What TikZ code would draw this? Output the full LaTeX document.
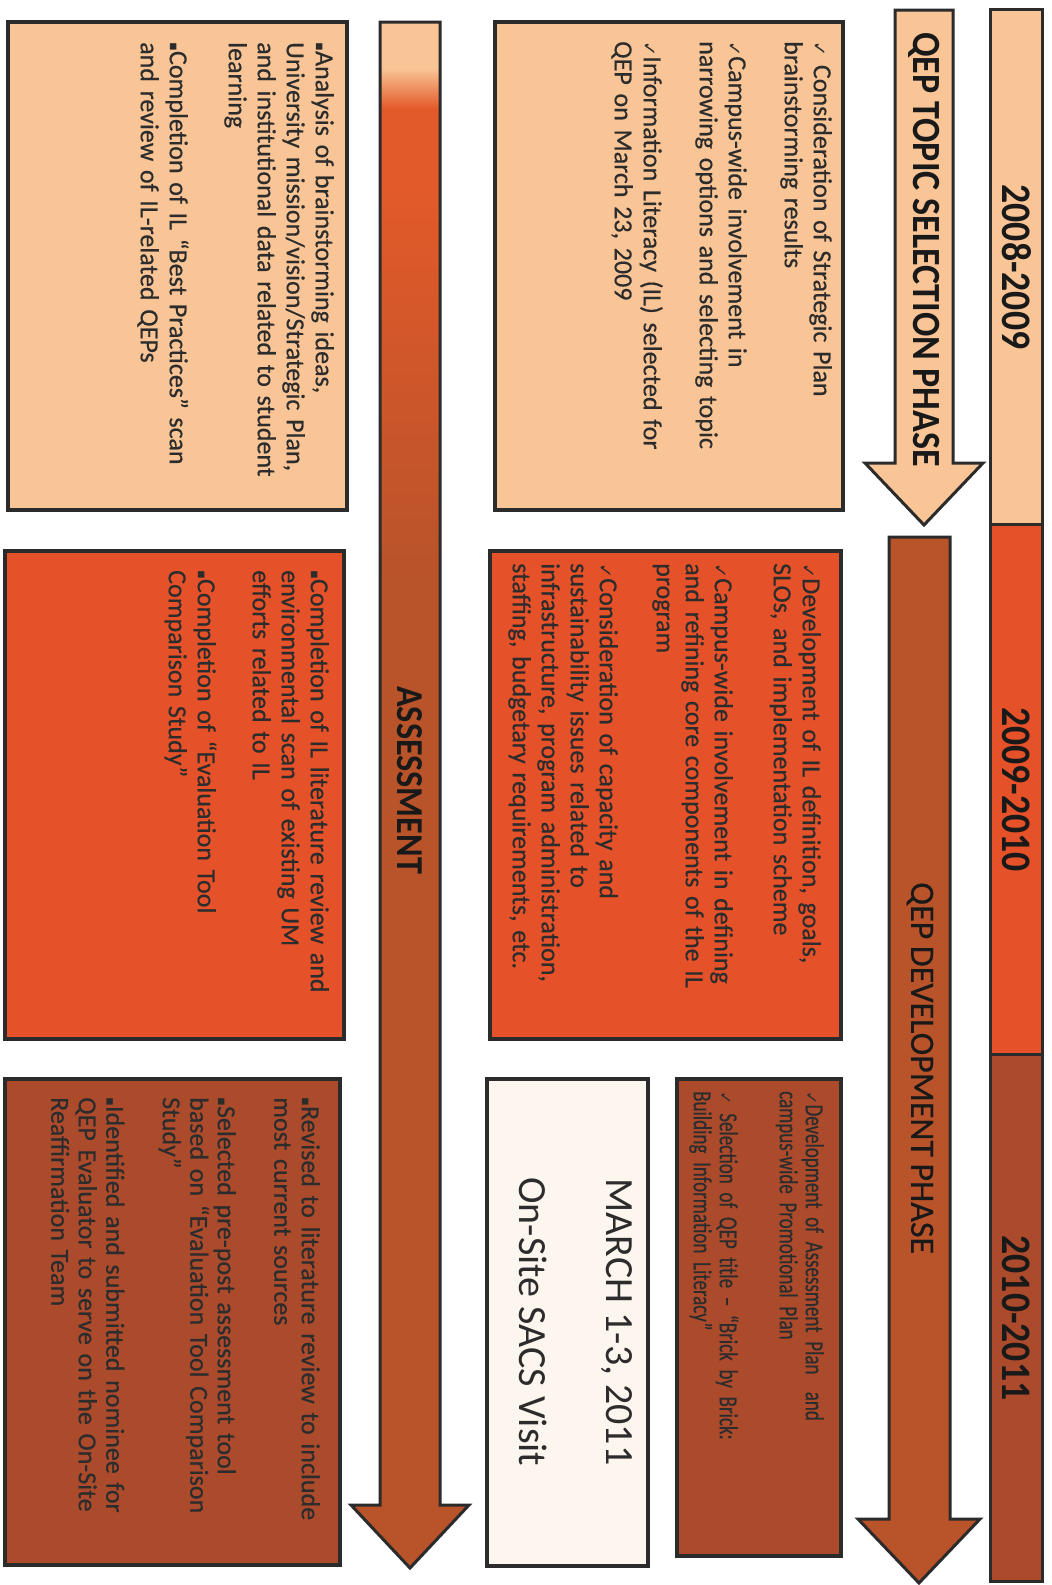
\documentclass[tikz,border=0pt]{standalone}
\usepackage{fontspec}
\setmainfont{Carlito}
\newfontfamily\symf{DejaVu Sans}
\newfontfamily\bodyf[FakeBold=0.5,WordSpace=0.85]{Carlito}
\newfontfamily\condf[FakeStretch=0.73,FakeBold=0.5]{Carlito}
\newfontfamily\condb[FakeStretch=0.9]{Carlito}
\definecolor{peach}{HTML}{F9C596}
\definecolor{orng}{HTML}{E5522A}
\definecolor{brwn}{HTML}{AB4B2C}
\definecolor{arrbrown}{HTML}{B9532A}
\definecolor{arrorng}{HTML}{E35A2A}
\definecolor{cream}{HTML}{FDF6EE}
\definecolor{bordc}{HTML}{2B2B2B}
\definecolor{txt}{HTML}{2C2C2C}
\pgfdeclareverticalshading{assessshade}{100bp}{color(0bp)=(arrbrown); color(57bp)=(arrbrown); color(70bp)=(arrorng); color(72.2bp)=(arrorng); color(73.5bp)=(peach); color(100bp)=(peach)}
\newcommand{\ck}{{\symf\fontsize{18pt}{18pt}\selectfont ✓}}
\newcommand{\cks}{{\symf\fontsize{16pt}{16pt}\selectfont ✓}}
\newcommand{\bul}{{\symf\fontsize{13pt}{13pt}\selectfont ▪}}
\tikzset{
  panel/.style={draw=bordc, line width=3.5pt, anchor=south west, inner sep=0pt, outer sep=0pt},
  body/.style={anchor=north west, inner sep=0pt, align=left, text=txt, font=\bodyf\fontsize{26pt}{29pt}\selectfont},
  yrbox/.style={draw=bordc, line width=3pt, anchor=south west, inner sep=0pt, minimum height=52pt},
  yrlbl/.style={text=black!90, font=\condb\bfseries\fontsize{42pt}{42pt}\selectfont, inner sep=0pt},
  phase/.style={draw=bordc, line width=3pt, line join=miter},
  phlbl/.style={text=black!90, inner sep=0pt},
}
\begin{document}
\begin{tikzpicture}
\fill[white] (0,0) rectangle (1052pt,-1585pt);
\useasboundingbox (0,0) rectangle (1052pt,-1585pt);
% assessment arrow (page coordinates)
\shadedraw[shading=assessshade, draw=bordc, line width=3pt, line join=miter]
  (380pt,-22pt) -- (380pt,-1505pt) -- (351pt,-1505pt) -- (410pt,-1568pt)
  -- (469pt,-1505pt) -- (440pt,-1505pt) -- (440pt,-22pt) -- cycle;
\begin{scope}[x=1pt,y=1pt,rotate=-90,transform shape]
% year bar
\node[yrbox, fill=peach, minimum width=515pt] (yb1) at (8,989) {};
\node[yrbox, fill=orng, minimum width=530pt] (yb2) at (523,989) {};
\node[yrbox, fill=brwn, minimum width=527pt] (yb3) at (1053,989) {};
\node[yrlbl] (y1) at (yb1.center) {2008-2009};
\node[yrlbl] (y2) at (yb2.center) {2009-2010};
\node[yrlbl] (y3) at (yb3.center) {2010-2011};
% phase arrows
\draw[phase, fill=peach] (10,895) -- (463,895) -- (463,865) -- (525,924)
  -- (463,983) -- (463,953) -- (10,953) -- cycle;
\node[phlbl, anchor=west, font=\condb\bfseries\fontsize{40pt}{40pt}\selectfont] (ltopic) at (32,924) {QEP TOPIC SELECTION PHASE};
\draw[phase, fill=arrbrown] (537,889) -- (1519,889) -- (1519,858) -- (1583,919)
  -- (1519,980) -- (1519,950) -- (537,950) -- cycle;
\node[phlbl, anchor=west, font=\bodyf\fontsize{34pt}{34pt}\selectfont] (ldev) at (882,920) {QEP DEVELOPMENT PHASE};
\node[phlbl, font=\condb\bfseries\fontsize{38pt}{38pt}\selectfont] (lassess) at (780,410) {ASSESSMENT};
% upper row of boxes
\node[panel, fill=peach, minimum width=488pt, minimum height=348pt] (bA) at (22,495) {};
\node[body, text width=465pt] (tA) at (41,832) {\ck\ Consideration of Strategic Plan\\ brainstorming results\\[27pt]
\ck Campus-wide involvement in\\ narrowing options and selecting topic\\[27pt]
\ck Information Literacy (IL) selected for\\ QEP on March 23, 2009};
\node[panel, fill=orng, minimum width=488pt, minimum height=351pt] (bB) at (551,490) {};
\node[body, text width=470pt] (tB) at (563,821) {\ck Development of IL definition, goals,\\ SLOs, and implementation scheme\\[30pt]
\ck Campus-wide involvement in defining\\ and refining core components of the IL\\ program\\[28pt]
\ck Consideration of capacity and\\ sustainability issues related to\\ infrastructure, program administration,\\ staffing, budgetary requirements, etc.};
\node[panel, fill=brwn, minimum width=477pt, minimum height=164pt] (bC) at (1079,677) {};
\node[body, text width=445pt, font=\condf\fontsize{26pt}{26pt}\selectfont] (tC) at (1091,824) {\makebox[\linewidth][s]{\cks Development of Assessment Plan\ \ and}\\ campus-wide Promotional Plan\\[34pt]
\makebox[\linewidth][s]{\cks\ Selection of QEP title – “Brick by Brick:}\\ Building Information Literacy”};
\node[panel, fill=cream, minimum width=487pt, minimum height=161pt] (bD) at (1079,487) {};
\node[inner sep=0pt, align=center, text=txt, font=\fontsize{40pt}{87pt}\selectfont] (tD) at (1322,576) {MARCH 1-3, 2011\\ On-Site SACS Visit};
% lower row of boxes
\node[panel, fill=peach, minimum width=488pt, minimum height=339pt] (bE) at (22,8) {};
\node[body, text width=460pt] (tE) at (42,334) {\bul Analysis of brainstorming ideas,\\ University mission/vision/Strategic Plan,\\ and institutional data related to student\\ learning\\[30pt]
\bul Completion of IL “Best Practices” scan\\ and review of IL-related QEPs};
\node[panel, fill=orng, minimum width=488pt, minimum height=339pt] (bF) at (551,5) {};
\node[body, text width=460pt] (tF) at (570,329) {\bul Completion of IL literature review and\\ environmental scan of existing UM\\ efforts related to IL\\[26pt]
\bul Completion of “Evaluation Tool\\ Comparison Study”};
\node[panel, fill=brwn, minimum width=486pt, minimum height=335pt] (bG) at (1079,5) {};
\node[body, text width=460pt, font=\bodyf\fontsize{26pt}{27.5pt}\selectfont] (tG) at (1097,320) {\bul Revised to literature review to include\\ most current sources\\[29pt]
\bul Selected pre-post assessment tool\\ based on “Evaluation Tool Comparison\\ Study”\\[29pt]
\bul Identified and submitted nominee for\\ QEP Evaluator to serve on the On-Site\\ Reaffirmation Team};
\end{scope}
\end{tikzpicture}
\end{document}
